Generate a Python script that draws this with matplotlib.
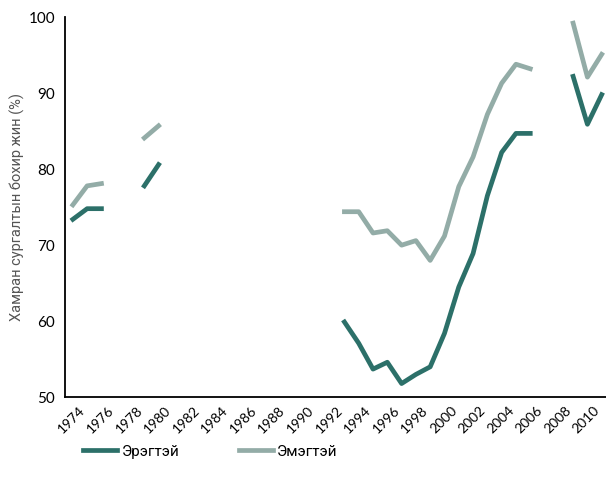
import numpy as np
import matplotlib
matplotlib.use("Agg")
import matplotlib.pyplot as plt
import matplotlib.transforms as mtransforms

years = np.arange(1974, 2012)

# NaN where the series has gaps
male_pts = {1974: 73.4, 1975: 74.8, 1976: 74.8, 1979: 77.8, 1980: 80.6,
            1993: 59.9, 1994: 57.1, 1995: 53.7, 1996: 54.6, 1997: 51.8,
            1998: 53.0, 1999: 54.0, 2000: 58.4, 2001: 64.5, 2002: 68.9,
            2003: 76.5, 2004: 82.2, 2005: 84.7, 2006: 84.7,
            2009: 92.2, 2010: 85.9, 2011: 89.8}
female_pts = {1974: 75.3, 1975: 77.8, 1976: 78.1, 1979: 84.1, 1980: 85.7,
              1993: 74.4, 1994: 74.4, 1995: 71.6, 1996: 71.9, 1997: 70.0,
              1998: 70.6, 1999: 68.0, 2000: 71.2, 2001: 77.7, 2002: 81.6,
              2003: 87.2, 2004: 91.3, 2005: 93.8, 2006: 93.2,
              2009: 99.2, 2010: 92.1, 2011: 95.1}

male = np.array([male_pts.get(y, np.nan) for y in years])
female = np.array([female_pts.get(y, np.nan) for y in years])

tick_years = np.arange(1974, 2011, 2)
y_ticks = [50, 60, 70, 80, 90, 100]

dark = "#2c7069"
light = "#93aca7"

fig = plt.figure(figsize=(6.06, 4.88), dpi=100)
ax = fig.add_axes([0.107, 0.186, 0.893, 0.779])

ax.plot(years, male, color=dark, lw=3.4, label="Эрэгтэй")
ax.plot(years, female, color=light, lw=3.4, label="Эмэгтэй")

ax.set_xlim(1973.44, 2011.3)
ax.set_ylim(50, 100)
ax.set_yticks(y_ticks)
ax.set_xticks(tick_years)
ax.set_xticklabels([str(y) for y in tick_years], rotation=45, ha="right",
                   rotation_mode="anchor", fontsize=10, family="Lato")
ax.set_yticklabels([str(v) for v in y_ticks], fontsize=11, family="Lato")
ax.tick_params(length=0, pad=7)
ax.tick_params(axis="x", pad=5)
shift = mtransforms.ScaledTranslation(6 / 100, 0, fig.dpi_scale_trans)
for lab in ax.get_xticklabels():
    lab.set_transform(lab.get_transform() + shift)
for s in ["top", "right"]:
    ax.spines[s].set_visible(False)
ax.spines["left"].set_linewidth(1.3)
ax.spines["bottom"].set_linewidth(1.3)

ax.set_ylabel("Хамран сургалтын бохир жин (%)", family="Roboto",
              fontsize=10.5, color="#555555", va="center")
ax.yaxis.set_label_coords(-0.088, 0.5)

fig.legend(loc="lower left", bbox_to_anchor=(0.115, 0.032), ncol=2, frameon=False,
           prop={"family": "Roboto", "size": 11},
           handlelength=2.2, columnspacing=3.9, handletextpad=0.3)

fig.savefig("out.png", dpi=100)
